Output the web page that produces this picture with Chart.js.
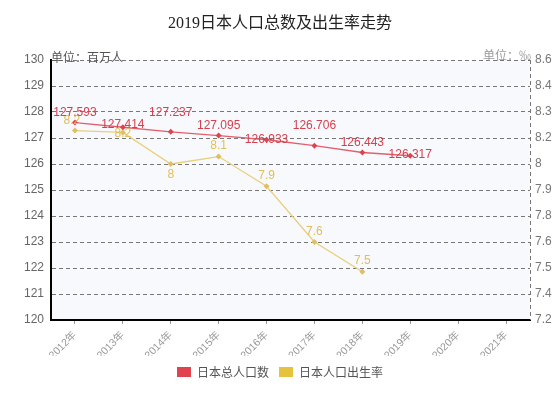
<!DOCTYPE html>
<html>
<head>
<meta charset="utf-8">
<script src="https://cdn.jsdelivr.net/npm/chart.js@4/dist/chart.umd.min.js"></script>
<style>
html,body{margin:0;padding:0;background:#fff;}
#c{display:block;}
</style>
</head>
<body>
<canvas id="c" width="560" height="396"></canvas>
<script>
// ---- data ----
const years = ['2012年','2013年','2014年','2015年','2016年','2017年','2018年','2019年','2020年','2021年'];
const population = [127.593,127.414,127.237,127.095,126.933,126.706,126.443,126.317,null,null];
const birthRate = [8.22,8.21,8.04,8.08,7.92,7.62,7.46,null,null,null];
const leftTicks = [120,121,122,123,124,125,126,127,128,129,130];
const rightTickValues = [7.2,7.34,7.48,7.62,7.76,7.9,8.04,8.18,8.32,8.46,8.6];
const rightTickLabels = ['7.2','7.4','7.5','7.6','7.8','7.9','8','8.2','8.3','8.4','8.6'];
const seriesNames = ['日本总人口数','日本人口出生率'];
const titleText = '2019日本人口总数及出生率走势';
const leftUnit = '单位：百万人';
const rightUnit = '单位：‰';

// label offsets above point (px), style only
const popLabelOffset = [10,3,19,10,0,20,10,1];
const rateLabelOffset = [10,-1,-11,10.5,10.5,10,11.5];

const RED = '#e0434e', RED_LINE = '#e2606c', RED_TEXT = '#d5404d';
const YEL = '#e6c33c', YEL_LINE = '#e8cf7a', YEL_TEXT = '#e0bf58';
const SANS = '"Liberation Sans","Noto Sans CJK SC",sans-serif';

const fmtPop = v => String(+v.toFixed(3));
const fmtRate = v => String(+v.toFixed(1));

const extras = {
  id: 'extras',
  beforeDraw(chart) {
    const {ctx, chartArea: a} = chart;
    ctx.save();
    ctx.fillStyle = '#f8f9fd';
    ctx.fillRect(a.left, a.top, a.right - a.left, a.bottom - a.top);
    ctx.restore();
  },
  afterDraw(chart) {
    const {ctx, chartArea: a} = chart;
    ctx.save();
    // dashed right border
    ctx.strokeStyle = '#777';
    ctx.lineWidth = 1;
    ctx.setLineDash([4,3]);
    ctx.beginPath();
    ctx.moveTo(Math.round(a.right) + 0.5, a.top);
    ctx.lineTo(Math.round(a.right) + 0.5, a.bottom);
    ctx.stroke();
    ctx.setLineDash([]);
    // units
    ctx.font = '12px "Noto Sans CJK SC",sans-serif';
    ctx.textBaseline = 'middle';
    ctx.fillStyle = '#555';
    ctx.textAlign = 'left';
    ctx.fillText(leftUnit, a.left, a.top - 3);
    ctx.fillStyle = '#9a9a9a';
    ctx.textAlign = 'right';
    ctx.fillText(rightUnit, a.right + 1, a.top - 5);
    // data labels
    ctx.font = '12px ' + SANS;
    ctx.textAlign = 'center';
    const m1 = chart.getDatasetMeta(1);
    m1.data.forEach((p, i) => {
      if (birthRate[i] == null) return;
      ctx.fillStyle = YEL_TEXT;
      ctx.fillText(fmtRate(birthRate[i]), i === 0 ? p.x - 3 : p.x, p.y - rateLabelOffset[i]);
    });
    const m0 = chart.getDatasetMeta(0);
    m0.data.forEach((p, i) => {
      if (population[i] == null) return;
      ctx.fillStyle = RED_TEXT;
      ctx.fillText(fmtPop(population[i]), p.x, p.y - popLabelOffset[i]);
    });
    ctx.restore();
  }
};

new Chart(document.getElementById('c'), {
  type: 'line',
  data: {
    labels: years,
    datasets: [
      {
        label: seriesNames[0], data: population, yAxisID: 'y',
        borderColor: RED_LINE, backgroundColor: RED, borderWidth: 1.3,
        pointStyle: 'rectRot', pointRadius: 3, pointBackgroundColor: RED, pointBorderColor: RED, pointBorderWidth: 0,
        tension: 0, spanGaps: false
      },
      {
        label: seriesNames[1], data: birthRate, yAxisID: 'y1',
        borderColor: YEL_LINE, backgroundColor: YEL, borderWidth: 1.3,
        pointStyle: 'rectRot', pointRadius: 3, pointBackgroundColor: '#ddc064', pointBorderColor: '#ddc064', pointBorderWidth: 0,
        tension: 0, spanGaps: false
      }
    ]
  },
  options: {
    responsive: false,
    animation: false,
    devicePixelRatio: 1,
    layout: { padding: { top: 0, left: 0, right: 0, bottom: 8 } },
    plugins: {
      title: {
        display: true, text: titleText, color: '#222',
        font: { size: 16, family: '"Liberation Serif","Noto Sans CJK SC",serif', weight: 'normal' },
        padding: { top: 14.4, bottom: 26.4 }
      },
      legend: {
        position: 'bottom',
        labels: {
          boxWidth: 14, boxHeight: 10, padding: 10, color: '#555',
          font: { size: 12, family: '"Noto Sans CJK SC",sans-serif' },
          generateLabels(chart) {
            return chart.data.datasets.map((d, i) => ({
              text: d.label, fillStyle: d.backgroundColor, strokeStyle: d.backgroundColor,
              lineWidth: 0, hidden: false, datasetIndex: i, fontColor: '#555'
            }));
          }
        }
      },
      tooltip: { enabled: false }
    },
    scales: {
      x: {
        offset: true,
        grid: { display: true, drawOnChartArea: false, drawTicks: true, tickLength: 4, tickColor: '#999' },
        border: { color: '#000', width: 2 },
        ticks: { minRotation: 45, maxRotation: 45, color: '#999', padding: 5, font: { size: 10.5, family: SANS } },
        afterFit(s) { s.height = 36; }
      },
      y: {
        position: 'left', min: 120, max: 130,
        afterBuildTicks(s) { s.ticks = leftTicks.map(v => ({ value: v })); },
        ticks: { color: '#666', padding: 7, font: { size: 12, family: SANS } },
        grid: { color: '#777', lineWidth: 1, drawTicks: false },
        border: { color: '#000', width: 2, dash: [4,3] },
        afterFit(s) { s.width = 51; }
      },
      y1: {
        position: 'right', min: 7.2, max: 8.6,
        afterBuildTicks(s) { s.ticks = rightTickValues.map(v => ({ value: v })); },
        ticks: { color: '#777', padding: 5, font: { size: 12, family: SANS },
          callback(v, i) { return rightTickLabels[i]; } },
        grid: { drawOnChartArea: false, drawTicks: false },
        border: { display: false },
        afterFit(s) { s.width = 30; }
      }
    }
  },
  plugins: [extras]
});
</script>
</body>
</html>
